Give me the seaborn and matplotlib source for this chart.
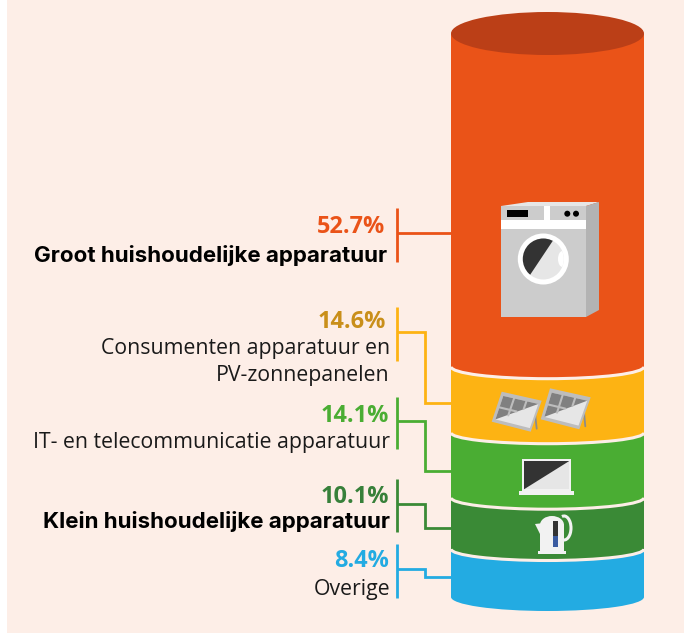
import numpy as np
import seaborn as sns
import matplotlib
matplotlib.use("Agg")
import matplotlib.pyplot as plt
from matplotlib.patches import Rectangle, Ellipse, Arc, Polygon, Circle

# data, from bottom to top of the cylinder
categories = ["Overige", "Klein huishoudelijke apparatuur", "IT- en telecommunicatie apparatuur",
              "Consumenten apparatuur en\nPV-zonnepanelen", "Groot huishoudelijke apparatuur"]
shares = [8.4, 10.1, 14.1, 14.6, 52.7]
# the bands are not drawn to scale in the original, these are the drawn heights
band_heights = [48, 51.3, 65, 66, 333.2]

band_colors = ["#23ABE2", "#3A8A36", "#4AAD33", "#FDB313", "#EA5318"]
text_colors = ["#23ABE2", "#37803A", "#4AAD33", "#C98F1A", "#EA5318"]
bold_label = [False, True, False, False, True]

BG = "#FDEEE7"

sns.set_theme(style="white")
plt.rcParams["font.family"] = ["Open Sans", "DejaVu Sans"]

fig = plt.figure(figsize=(6.88, 6.33), dpi=100, facecolor="white")
fig.add_artist(Rectangle((7 / 688, 0), 677 / 688, 1, transform=fig.transFigure,
                         color=BG, lw=0, zorder=-1))

# cylinder
total = sum(band_heights)
ax = fig.add_axes([451 / 688, (633 - 597) / 633, 193 / 688, total / 633])
ax.patch.set_alpha(0)
bottom = 0
curve = [14, 11.5, 11.5, 11, 12]
for i, h in enumerate(band_heights):
    sns.barplot(x=["cilinder"], y=[h], bottom=bottom, width=1, color=band_colors[i],
                saturation=1, linewidth=0, zorder=2 * i + 2, ax=ax)
    ax.add_patch(Ellipse((0, bottom), 1, 2 * curve[i], color=band_colors[i], lw=0,
                         zorder=2 * i + 2, clip_on=False))
    if i > 0:
        ax.add_patch(Arc((0, bottom), 1, 2 * curve[i], theta1=180, theta2=360, color=BG,
                         lw=2.2, zorder=2 * i + 3, clip_on=False))
    bottom += h
ax.add_patch(Ellipse((0, total), 1, 43, color="#BB3F17", lw=0, zorder=20, clip_on=False))
ax.set_xlim(-0.5, 0.5)
ax.set_ylim(0, total)
ax.axis("off")

# overlay in pixels of the picture
over = fig.add_axes([0, 0, 1, 1], zorder=5)
over.patch.set_alpha(0)
over.set_xlim(0, 688)
over.set_ylim(633, 0)
over.axis("off")

# callout lines
LW = 2.0
callouts = [
    (544, 598, [(397, 569), (425, 569), (425, 577), (451, 577)]),
    (479, 532, [(397, 504), (425, 504), (425, 528), (451, 528)]),
    (397, 449, [(397, 421), (425, 421), (425, 471), (451, 471)]),
    (307, 361, [(397, 332), (425, 332), (425, 403), (451, 403)]),
    (208, 262, [(397, 233), (451, 233)]),
]
for (y0, y1, path), c in zip(callouts, band_colors):
    over.plot([397, 397], [y0, y1], color=c, lw=LW, solid_capstyle="butt")
    over.plot(*zip(*path), color=c, lw=LW, solid_joinstyle="miter", solid_capstyle="butt")

# texts
pct_pos = [(389, 558), (389, 494), (389, 413), (386, 319), (385, 224)]
label_pos = [(390, 587), (390, 519), (390, 440), (390, 356.5), (387, 254)]
for i in range(5):
    over.text(pct_pos[i][0], pct_pos[i][1], f"{shares[i]}%", ha="right", va="center_baseline",
              fontsize=16.9, fontweight="bold", color=text_colors[i])
    if bold_label[i]:
        over.text(label_pos[i][0], label_pos[i][1], categories[i], ha="right", va="center_baseline",
                  family=["Inter", "DejaVu Sans"], fontsize=16.1, fontweight="bold", color="black")
    else:
        over.text(label_pos[i][0], label_pos[i][1], categories[i], ha="right", va="center_baseline",
                  fontsize=15.3, linespacing=1.35, color="#1A1A1A")


def poly(points, color, z=6):
    p = Polygon(points, closed=True, color=color, lw=0, zorder=z)
    over.add_patch(p)
    return p


# washing machine
poly([(501, 206), (528, 202), (599, 202), (586, 206)], "#E6E6E6")
poly([(586, 206), (599, 202), (599, 310), (586, 317)], "#B3B3B3")
poly([(501, 206), (586, 206), (586, 317), (501, 317)], "#CCCCCC")
poly([(501, 220), (586, 220), (586, 229), (501, 229)], "#FFFFFF")
poly([(544, 206), (550, 206), (550, 220), (544, 220)], "#FFFFFF")
poly([(507, 210), (528, 210), (528, 217), (507, 217)], "#000000")
over.add_patch(Circle((567.3, 213.7), 3, color="black", lw=0, zorder=7))
over.add_patch(Circle((576, 213.7), 3, color="black", lw=0, zorder=7))
over.add_patch(Circle((543.3, 259), 25.5, color="white", lw=0, zorder=7))
drum = Circle((543.3, 259), 20.5, color="#E6E6E6", lw=0, zorder=8)
over.add_patch(drum)
dark = poly([(530, 275), (554, 239), (520, 225), (510, 265)], "#333333", z=9)
dark.set_clip_path(drum)
bump = Ellipse((562.5, 259), 9, 16, color="white", lw=0, zorder=9)
over.add_patch(bump)
bump.set_clip_path(drum)


# solar panels, corners in order top left, top right, bottom right, bottom left
def panel(tl, tr, br, bl):
    tl, tr, br, bl = map(np.array, (tl, tr, br, bl))

    def at(u, v):
        return (tl + (tr - tl) * u) * (1 - v) + (bl + (br - bl) * u) * v

    # stand behind the panel
    foot = at(1, 1) + np.array([6, 3])
    over.plot([at(.9, .5)[0] + 3, foot[0]], [at(.9, .5)[1], foot[1] - 6], color="#8C8C8C", lw=1.3, zorder=6)
    poly([tl, tr, br, bl], "#BDBDBD", z=7)
    poly([at(.07, .12), at(.95, .12), at(.95, .9), at(.07, .9)], "#E6E6E6", z=8)
    poly([at(.07, .12), at(.95, .12), at(.07, .9)], "#808080", z=9)
    for u in (.34, .65):
        end = 1.0 - u + .02
        over.plot(*zip(at(u, .12), at(u, end)), color="#BDBDBD", lw=1.5, zorder=10)
    over.plot(*zip(at(.07, .5), at(.5, .5)), color="#BDBDBD", lw=1.5, zorder=10)


panel((501.7, 391.7), (541.7, 400.7), (530.7, 431.7), (491.7, 421.7))
panel((550, 388.3), (590.7, 397.3), (579.3, 429.3), (540.7, 419.3))

# laptop
poly([(522, 459), (571, 459), (571, 491), (522, 491)], "#F2F2F2")
poly([(524, 461), (569.3, 461), (569.3, 489.3), (524, 489.3)], "#E6E6E6", z=7)
poly([(524, 461), (569.3, 461), (524, 489.3)], "#333333", z=8)
poly([(519, 491), (574, 491), (574, 495), (519, 495)], "#F2F2F2")

# kettle
over.add_patch(Ellipse((552, 525), 24, 18, color="#F2F2F2", lw=0, zorder=6))
poly([(540, 525), (564, 525), (564, 551), (540, 551)], "#F2F2F2")
poly([(535, 524), (544, 523), (542, 538)], "#F2F2F2")
poly([(538, 551), (566, 551), (566, 554), (538, 554)], "#F2F2F2")
over.add_patch(Arc((564, 528), 14, 24, theta1=-100, theta2=100, color="#F2F2F2", lw=2.2, zorder=6))
poly([(553, 521), (558, 521), (558, 536), (553, 536)], "#333333", z=7)
poly([(553, 536), (558, 536), (558, 547), (553, 547)], "#3A5BA0", z=7)

fig.savefig("out.png", dpi=100, facecolor="white")
